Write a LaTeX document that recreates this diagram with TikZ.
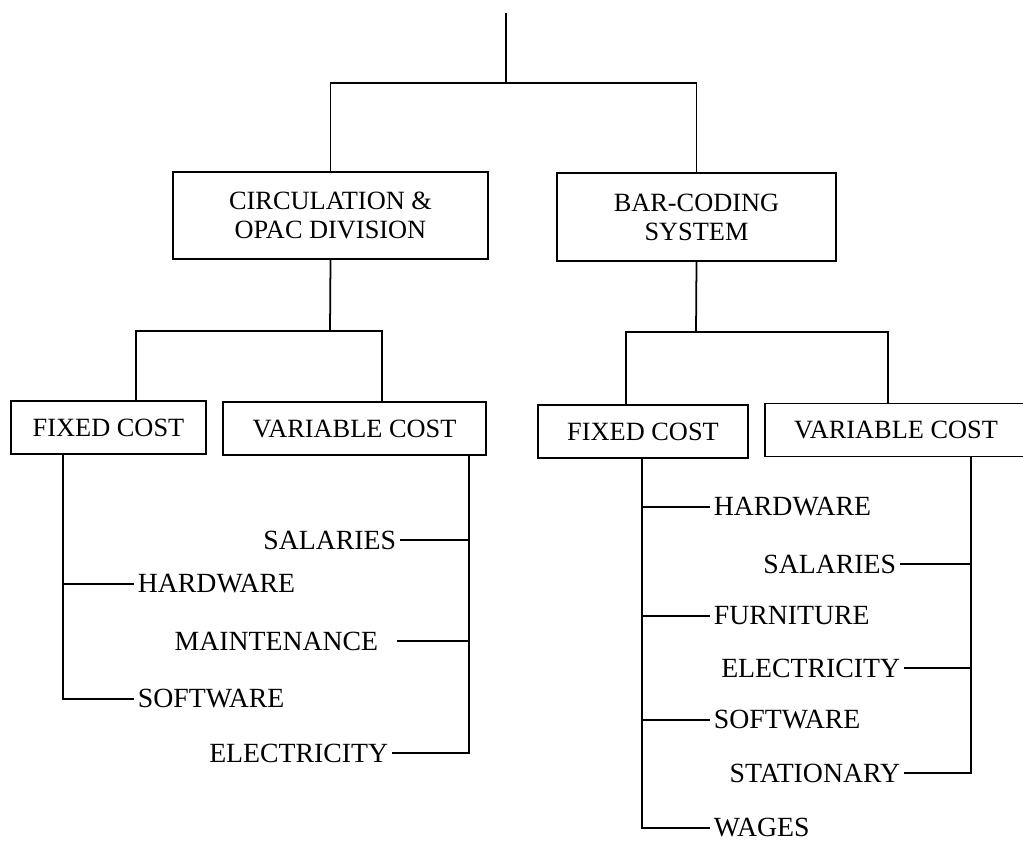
\documentclass[tikz,border=0pt]{standalone}
\usepackage{fontspec}
\setmainfont{Liberation Serif}
\usepackage{tikz}

\begin{document}
\begin{tikzpicture}[x=0.02cm,y=-0.02cm,line width=1pt,
  unit box/.style={rectangle,draw,align=center,inner sep=2pt,font=\fontsize{15}{16.5}\selectfont},
  cost box/.style={rectangle,draw,minimum height=1.06cm,inner sep=2pt,font=\fontsize{15}{18}\selectfont},
  item/.style={inner sep=0.06cm,font=\fontsize{15.8}{18}\selectfont}]

  \useasboundingbox (0,0) rectangle (1023,841);

  \coordinate (root) at (506,13);
  \coordinate (top) at (506,83);

  \node[unit box,minimum width=6.3cm,minimum height=1.74cm] (circ) at (330.5,215.5) {CIRCULATION \&\\OPAC DIVISION};
  \node[unit box,minimum width=5.58cm,minimum height=1.76cm] (bar) at (696.5,217) {BAR-CODING\\SYSTEM};

  \node[cost box,minimum width=3.9cm] (lfix) at (108.5,427.5) {FIXED COST};
  \node[cost box,minimum width=5.26cm] (lvar) at (354.5,428.5) {VARIABLE COST};
  \node[cost box,minimum width=4.2cm] (rfix) at (643,431.5) {FIXED COST};
  \node[cost box,minimum width=5.24cm] (rvar) at (896,430) {VARIABLE COST};

  % left division items
  \node[item,anchor=west] (lhw) at (134,584) {HARDWARE};
  \node[item,anchor=west] (lsw) at (134,699) {SOFTWARE};
  \node[item,anchor=east] (lsal) at (400,540) {SALARIES};
  \node[item,anchor=east] (lmnt) at (382,641) {MAINTENANCE};
  \node[item,anchor=east] (lele) at (392,753) {ELECTRICITY};

  % bar-coding items
  \node[item,anchor=west] (rhw) at (710,507) {HARDWARE};
  \node[item,anchor=west] (rfur) at (710,616) {FURNITURE};
  \node[item,anchor=west] (rsw) at (710,720) {SOFTWARE};
  \node[item,anchor=west] (rwag) at (710,828) {WAGES};
  \node[item,anchor=east] (rsal) at (900,564) {SALARIES};
  \node[item,anchor=east] (rele) at (904,668) {ELECTRICITY};
  \node[item,anchor=east] (rsta) at (904,773) {STATIONARY};

  \coordinate (lsplit) at (330,331);
  \coordinate (rsplit) at (696,332);
  \path (lfix.north) ++(27.5,0) coordinate (lfa);
  \path (lvar.north) ++(27.5,0) coordinate (lva);
  \path (rfix.north) ++(-17,0) coordinate (rfa);
  \path (rvar.north) ++(-8,0) coordinate (rva);
  \path (lfix.south) ++(-45.5,0) coordinate (lfs);
  \path (lvar.south) ++(114.5,0) coordinate (lvs);
  \path (rfix.south) ++(-1,0) coordinate (rfs);
  \path (rvar.south) ++(75,0) coordinate (rvs);

  \draw (root) -- (top);
  \draw (circ.north) |- (top) -| (bar.north);
  \draw (circ.south) -- (lsplit);
  \draw (lfa) |- (lsplit) -| (lva);
  \draw (bar.south) -- (rsplit);
  \draw (rfa) |- (rsplit) -| (rva);

  \draw (lfs) |- (lhw.west);
  \draw (lfs) |- (lsw.west);
  \draw (lvs) |- (lsal.east);
  \draw (lvs) |- ([xshift=0.3cm]lmnt.east);
  \draw (lvs) |- (lele.east);

  \draw (rfs) |- (rhw.west);
  \draw (rfs) |- (rfur.west);
  \draw (rfs) |- (rsw.west);
  \draw (rfs) |- (rwag.west);
  \draw (rvs) |- (rsal.east);
  \draw (rvs) |- (rele.east);
  \draw (rvs) |- (rsta.east);

\end{tikzpicture}
\end{document}
